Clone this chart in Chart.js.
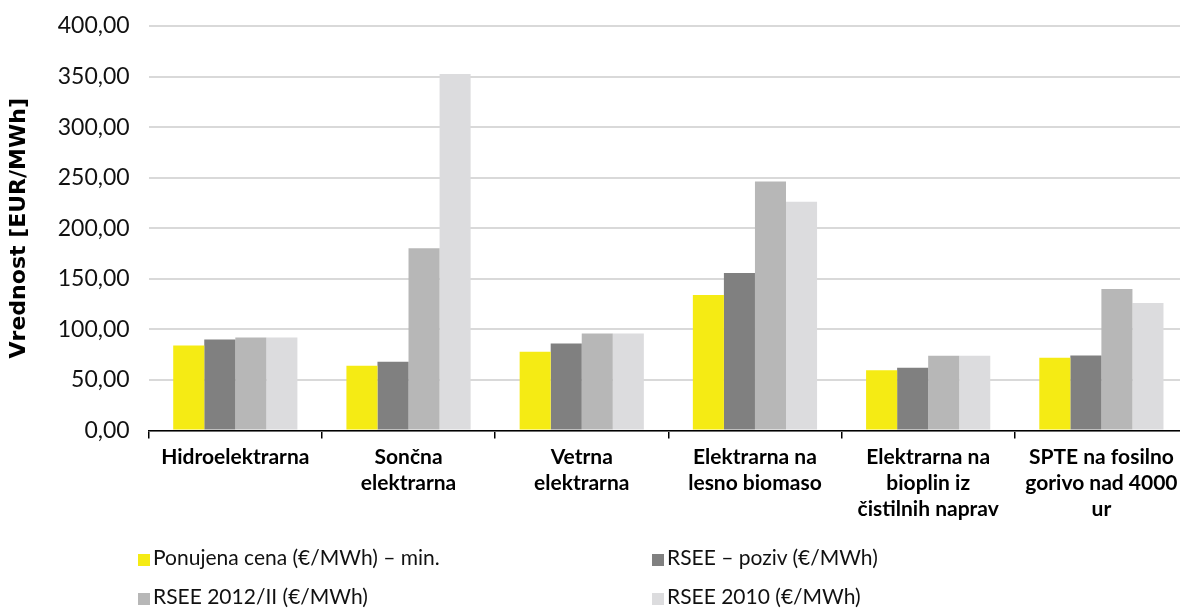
<!DOCTYPE html>
<html>
<head>
<meta charset="utf-8">
<script src="https://cdn.jsdelivr.net/npm/chart.js@4"></script>
<style>
  html, body { margin: 0; padding: 0; background: #fff; }
  #wrap { position: relative; width: 1180px; height: 608px; overflow: hidden; }
  #chart { position: absolute; left: 0; top: 0; }
  .legend { position: absolute; font-family: Lato, sans-serif; font-size: 21px; color: #111; white-space: nowrap; }
  .legend span.box { display: inline-block; width: 12px; height: 12px; margin-right: 3px; vertical-align: -1px; }
</style>
</head>
<body>
<div id="wrap">
  <canvas id="chart" width="1188" height="608"></canvas>
  <div id="legend"></div>
</div>
<script>
// Plant types and the four price series (EUR/MWh)
const CATEGORIES = [
  'Hidroelektrarna',
  ['Sončna', 'elektrarna'],
  ['Vetrna', 'elektrarna'],
  ['Elektrarna na', 'lesno biomaso'],
  ['Elektrarna na', 'bioplin iz', 'čistilnih naprav'],
  ['SPTE na fosilno', 'gorivo nad 4000', 'ur']
];
const SERIES_NAMES = [
  'Ponujena cena (€/MWh) – min.',
  'RSEE – poziv (€/MWh)',
  'RSEE 2012/II (€/MWh)',
  'RSEE 2010 (€/MWh)'
];
const PONUJENA_MIN = [84.1, 64.0, 77.8, 134.1, 59.7, 71.9];
const RSEE_POZIV   = [90.0, 67.9, 86.1, 155.8, 62.0, 74.2];
const RSEE_2012_II = [92.0, 180.2, 96.0, 246.3, 73.8, 140.0];
const RSEE_2010    = [92.0, 352.6, 96.0, 226.3, 73.8, 126.2];
const Y_TICKS = [0, 50, 100, 150, 200, 250, 300, 350, 400];

const COLORS = ['#f5eb14', '#808080', '#b7b7b7', '#dcdcde'];
const FONT = 'Lato, sans-serif';

const fmtNum = v => v.toFixed(2).replace('.', ',');

const values = [PONUJENA_MIN, RSEE_POZIV, RSEE_2012_II, RSEE_2010];

new Chart(document.getElementById('chart').getContext('2d'), {
  type: 'bar',
  data: {
    labels: CATEGORIES,
    datasets: values.map((data, i) => ({
      label: SERIES_NAMES[i],
      data,
      backgroundColor: COLORS[i],
      borderWidth: 0,
      categoryPercentage: 0.717,
      barPercentage: 1
    }))
  },
  options: {
    responsive: false,
    animation: false,
    layout: {padding: {top: 26, left: 0, right: 0, bottom: 0}},
    plugins: {legend: {display: false}, tooltip: {enabled: false}},
    scales: {
      x: {
        grid: {
          display: true,
          offset: true,
          drawOnChartArea: false,
          color: '#000',
          lineWidth: 1.5,
          tickLength: 8
        },
        border: {display: true, color: '#000', width: 1.5},
        ticks: {
          color: '#000',
          font: {family: FONT, size: 21, weight: 'bold', lineHeight: 1.24},
          padding: 6,
          maxRotation: 0,
          autoSkip: false
        },
        afterFit: axis => { axis.height = 608 - 430.5; }
      },
      y: {
        min: 0,
        max: 400,
        afterBuildTicks: axis => { axis.ticks = Y_TICKS.map(v => ({value: v})); },
        grid: {color: '#d9d9d9', lineWidth: 2, drawTicks: false},
        border: {display: false},
        ticks: {
          color: '#111',
          font: {family: FONT, size: 23},
          padding: 19,
          callback: v => fmtNum(v)
        },
        title: {
          display: true,
          text: 'Vrednost [EUR/MWh]',
          color: '#000',
          font: {family: '"DejaVu Sans", sans-serif', size: 22, weight: 700},
          padding: {top: 6, bottom: 0}
        },
        // fixed width so the plot starts at x≈149; tick-label overhang is not reserved
        afterFit: axis => {
          axis.width = 148.7;
          axis.paddingTop = 0;
          axis.paddingBottom = 0;
        }
      }
    }
  }
});

// Two-column legend under the plot
const legendPos = [[138, 544], [652, 544], [138, 583], [652, 583]];
const legendEl = document.getElementById('legend');
SERIES_NAMES.forEach((name, i) => {
  const item = document.createElement('div');
  item.className = 'legend';
  item.style.left = legendPos[i][0] + 'px';
  item.style.top = legendPos[i][1] + 'px';
  item.innerHTML = '<span class="box" style="background:' + COLORS[i] + '"></span>';
  item.appendChild(document.createTextNode(name));
  legendEl.appendChild(item);
});
</script>
</body>
</html>
